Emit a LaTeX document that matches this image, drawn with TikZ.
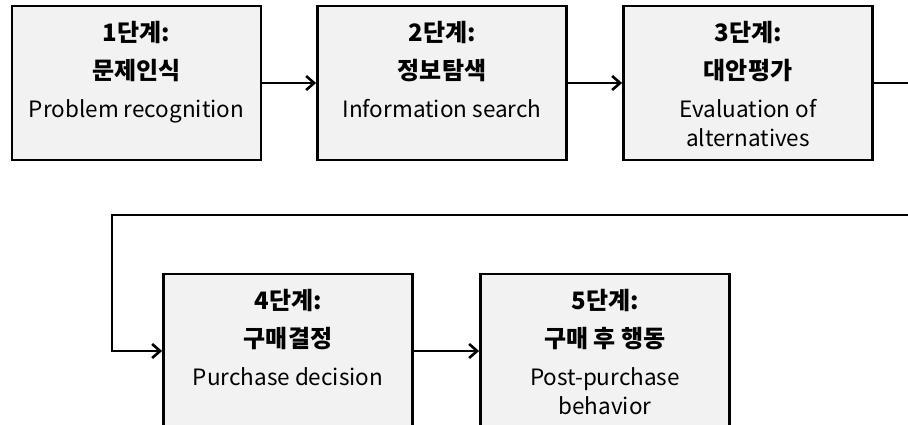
\documentclass[tikz,border=0pt]{standalone}
\usepackage{fontspec}
\setmainfont{Noto Sans CJK KR}
\usetikzlibrary{arrows.meta}

\tikzset{
  stagebox/.style={draw=black, line width=2.8pt, fill=black!5,
    minimum width=249pt, minimum height=154pt, inner sep=0pt},
  stagetext/.style={anchor=north, align=center, inner sep=0pt,
    font=\fontsize{22.5}{38}\selectfont},
  flow/.style={line width=2.4pt, -{Straight Barb[length=8pt,width=14pt,line width=2.6pt]}}
}
\newcommand{\headfont}{\fontsize{24}{38}\selectfont\bfseries}

\begin{document}
\begin{tikzpicture}[x=1pt,y=-1pt]
    \useasboundingbox (0,0) rectangle (908,425);
    \clip (0,0) rectangle (908,425);

    % Stage boxes
    \node[stagebox] (s1) at (136.5,83) {};
    \node[stagebox] (s2) at (442,83) {};
    \node[stagebox] (s3) at (748,83) {};
    \node[stagebox] (s4) at (288,351) {};
    \node[stagebox] (s5) at (605,351) {};

    % Stage texts
    \node[stagetext] (t1) at ([yshift=-16pt]s1.north) {{\headfont 1단계:}\\ {\headfont 문제인식}\\ Problem recognition};
    \node[stagetext] (t2) at ([yshift=-16pt]s2.north) {{\headfont 2단계:}\\ {\headfont 정보탐색}\\ Information search};
    \node[stagetext] (t3) at ([yshift=-16pt]s3.north) {{\headfont 3단계:}\\ {\headfont 대안평가}\\ Evaluation of\\[-9pt] alternatives};
    \node[stagetext] (t4) at ([yshift=-16pt]s4.north) {{\headfont 4단계:}\\ {\headfont 구매결정}\\ Purchase decision};
    \node[stagetext] (t5) at ([yshift=-16pt]s5.north) {{\headfont 5단계:}\\ {\headfont 구매 후 행동}\\ Post-purchase\\[-9pt] behavior};

    % Turning points of the return line
    \coordinate (turnR) at (940,215);
    \coordinate (turnL) at (112,215);

    % Arrows
    \draw[flow] (s1.east) -- (s2.west);
    \draw[flow] (s2.east) -- (s3.west);
    \draw[flow] (s3.east) -| (turnR) -- (turnL) |- (s4.west);
    \draw[flow] (s4.east) -- (s5.west);
\end{tikzpicture}
\end{document}
